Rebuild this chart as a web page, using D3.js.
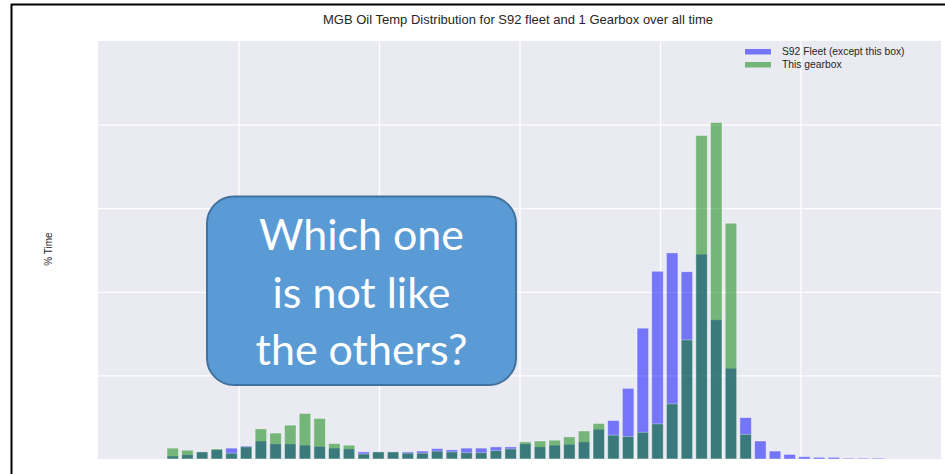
<!DOCTYPE html>
<html>
<head>
<meta charset="utf-8">
<script src="https://cdn.jsdelivr.net/npm/d3@7"></script>
<style>
  html, body { margin: 0; padding: 0; background: #ffffff; }
  svg { display: block; }
</style>
</head>
<body>
<svg id="chart" width="945" height="474"></svg>
<script>
// ---------------- DATA ----------------
const bins = d3.range(49).map(i => "b" + i); // histogram bin categories (order only)
const fleetPct = [0.07, 0.10, 0.17, 0.22, 0.26, 0.31, 0.43, 0.36, 0.36, 0.33,
                  0.30, 0.26, 0.24, 0.17, 0.17, 0.17, 0.17, 0.19, 0.25, 0.22,
                  0.26, 0.26, 0.29, 0.29, 0.36, 0.29, 0.33, 0.35, 0.41, 0.71,
                  0.92, 1.69, 3.13, 4.49, 4.93, 4.48, 4.90, 3.33, 2.17, 0.99,
                  0.43, 0.19, 0.11, 0.055, 0.04, 0.04, 0.02, 0.02, 0.02];
const gearboxPct = [0.26, 0.21, 0.17, 0.24, 0.14, 0.29, 0.72, 0.62, 0.81, 1.09,
                    0.97, 0.37, 0.33, 0.12, 0.17, 0.17, 0.14, 0.14, 0.19, 0.17,
                    0.15, 0.15, 0.20, 0.24, 0.41, 0.43, 0.45, 0.53, 0.67, 0.85,
                    0.57, 0.54, 0.64, 0.84, 1.32, 2.85, 7.74, 8.05, 5.64, 0.59,
                    0, 0, 0, 0, 0, 0, 0, 0, 0];
const xGridTicks = [0, 25, 50, 75, 100];
const yGridTicks = [2, 4, 6, 8];
const seriesNames = ["S92 Fleet (except this box)", "This gearbox"];
const seriesColors = ["#0000ff", "#008000"];
const titleText = "MGB Oil Temp Distribution for S92 fleet and 1 Gearbox over all time";
const yLabelText = "% Time";
const calloutLines = ["Which one", "is not like", "the others?"];

// ---------------- LAYOUT ----------------
const svg = d3.select("#chart");
const plot = { left: 98, right: 941, top: 41, bottom: 459 };

// border lines of the screenshot frame
svg.append("line").attr("x1", 11.5).attr("x2", 11.5).attr("y1", 4).attr("y2", 474)
   .attr("stroke", "#000").attr("stroke-width", 2);
svg.append("line").attr("x1", 11).attr("x2", 945).attr("y1", 4.5).attr("y2", 4.5)
   .attr("stroke", "#000").attr("stroke-width", 2);

// plot background
svg.append("rect").attr("x", plot.left).attr("y", plot.top)
   .attr("width", plot.right - plot.left).attr("height", plot.bottom - plot.top)
   .attr("fill", "#EAEAF2");

const xLin = d3.scaleLinear().domain([-25, 125]).range([plot.left, plot.right]);
const xBand = d3.scaleBand().domain(bins).range([165.4, 885.2])
   .paddingInner(0.22).paddingOuter(0.11);
const y = d3.scaleLinear().domain([0, 10]).range([plot.bottom, plot.top]);

// gridlines via axes
svg.append("g").attr("transform", `translate(0,${plot.bottom})`)
   .call(d3.axisBottom(xLin).tickValues(xGridTicks).tickSize(-(plot.bottom - plot.top)).tickFormat(""))
   .call(g => g.select(".domain").remove())
   .call(g => g.selectAll("line").attr("stroke", "#ffffff").attr("stroke-width", 1.3));
svg.append("g").attr("transform", `translate(${plot.left},0)`)
   .call(d3.axisLeft(y).tickValues(yGridTicks).tickSize(-(plot.right - plot.left)).tickFormat(""))
   .call(g => g.select(".domain").remove())
   .call(g => g.selectAll("line").attr("stroke", "#ffffff").attr("stroke-width", 1.3));

// bars
[fleetPct, gearboxPct].forEach((vals, si) => {
  svg.append("g").selectAll("rect").data(vals).join("rect")
    .attr("x", (d, i) => xBand(bins[i]))
    .attr("width", xBand.bandwidth())
    .attr("y", d => y(d))
    .attr("height", d => y(0) - y(d))
    .attr("fill", seriesColors[si])
    .attr("fill-opacity", 0.5)
    .attr("stroke", d => d > 0 ? "#ffffff" : "none")
    .attr("stroke-opacity", 0.45)
    .attr("stroke-width", 0.8);
});

// title
svg.append("text").attr("x", 518).attr("y", 24).attr("text-anchor", "middle")
   .attr("font-family", "Liberation Sans, Arial, sans-serif").attr("font-size", 13)
   .attr("fill", "#262626").text(titleText);

// y label
svg.append("text").attr("transform", "translate(52,249) rotate(-90)")
   .attr("text-anchor", "middle")
   .attr("font-family", "Liberation Sans, Arial, sans-serif").attr("font-size", 10)
   .attr("fill", "#262626").text(yLabelText);

// legend
const legend = svg.append("g").attr("transform", "translate(745,49)");
seriesNames.forEach((name, i) => {
  const row = legend.append("g").attr("transform", `translate(0,${i * 13})`);
  row.append("rect").attr("width", 26).attr("height", 5.5)
     .attr("fill", seriesColors[i]).attr("fill-opacity", 0.5);
  row.append("text").attr("x", 37).attr("y", 6.3)
     .attr("font-family", "Liberation Sans, Arial, sans-serif").attr("font-size", 10.3)
     .attr("fill", "#262626").text(name);
});

// callout box
svg.append("rect").attr("x", 207).attr("y", 196.5).attr("width", 309).attr("height", 188.5)
   .attr("rx", 27).attr("ry", 27)
   .attr("fill", "#5B9BD5").attr("stroke", "#41719C").attr("stroke-width", 2);
const baselines = [250, 308, 365];
const cText = svg.append("g");
calloutLines.forEach((t, i) => {
  cText.append("text").attr("x", 361.5).attr("y", baselines[i])
    .attr("text-anchor", "middle")
    .attr("font-family", "Lato, 'Open Sans', sans-serif").attr("font-size", 40)
    .attr("fill", "#ffffff").text(t);
});
// fit first line width to ~205px
const first = cText.select("text").node();
const w = first.getComputedTextLength();
const fs = 40 * 205 / w;
cText.selectAll("text").attr("font-size", fs);
</script>
</body>
</html>
